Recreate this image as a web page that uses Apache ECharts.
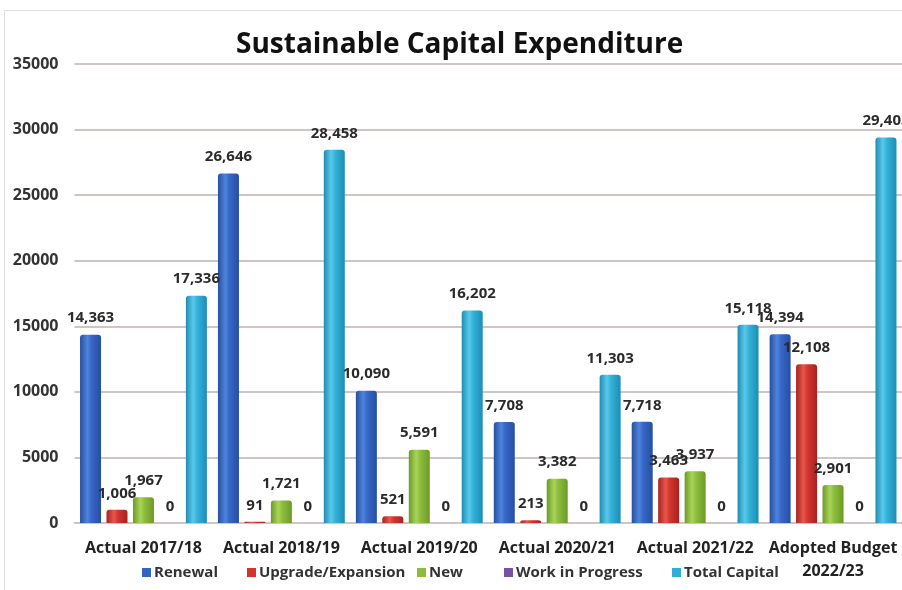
<!DOCTYPE html>
<html>
<head>
<meta charset="utf-8">
<script src="https://cdn.jsdelivr.net/npm/echarts@6/dist/echarts.min.js"></script>
<style>
  html, body { margin: 0; padding: 0; background: #ffffff; }
  #chart { width: 902px; height: 590px; }
</style>
</head>
<body>
<div id="chart"></div>
<script>
// Capital expenditure by year and spending type
const categories = ['Actual 2017/18', 'Actual 2018/19', 'Actual 2019/20', 'Actual 2020/21', 'Actual 2021/22', 'Adopted Budget\n2022/23'];
const renewal = [14363, 26646, 10090, 7708, 7718, 14394];
const upgradeExpansion = [1006, 91, 521, 213, 3463, 12108];
const newWorks = [1967, 1721, 5591, 3382, 3937, 2901];
const workInProgress = [0, 0, 0, 0, 0, 0];
const totalCapital = [17336, 28458, 16202, 11303, 15118, 29403];
const yTicks = [0, 5000, 10000, 15000, 20000, 25000, 30000, 35000];

const FONT = '"Open Sans", "Noto Sans", sans-serif';

// Horizontal gradient that gives each bar a rounded, cylinder-like shading
function tube(edge, mid, light) {
  return new echarts.graphic.LinearGradient(0, 0, 1, 0, [
    { offset: 0, color: edge },
    { offset: 0.35, color: light },
    { offset: 0.55, color: mid },
    { offset: 1, color: edge }
  ]);
}

const palette = {
  renewal: { solid: '#3464c2', fill: tube('#274fa0', '#3666c8', '#4e84dc') },
  upgrade: { solid: '#d2342e', fill: tube('#a8221f', '#d3352f', '#e8564b') },
  fresh:   { solid: '#8dbb3c', fill: tube('#6c9a26', '#8dbd3e', '#a9d45a') },
  wip:     { solid: '#7552a3', fill: tube('#5a3c86', '#7552a3', '#8c6ab8') },
  total:   { solid: '#30aed6', fill: tube('#1d8db4', '#33b1d8', '#5ac9ea') }
};

const fmt = v => v.value.toLocaleString('en-US');

function barSeries(name, data, colors) {
  return {
    name: name,
    type: 'bar',
    data: data,
    barWidth: 21,
    barGap: '26%',
    itemStyle: { color: colors.fill, borderRadius: [3, 3, 0, 0] },
    label: {
      show: true,
      position: 'top',
      distance: 9,
      formatter: fmt,
      fontFamily: FONT,
      fontSize: 15,
      fontWeight: 700,
      color: '#2b2b2b'
    }
  };
}

const series = [
  barSeries('Renewal', renewal, palette.renewal),
  barSeries('Upgrade/Expansion', upgradeExpansion, palette.upgrade),
  barSeries('New', newWorks, palette.fresh),
  barSeries('Work in Progress', workInProgress, palette.wip),
  barSeries('Total Capital', totalCapital, palette.total)
];

// One legend per entry so each swatch sits where it belongs on the bottom row
const legendSpots = [
  { name: 'Renewal', left: 142, color: palette.renewal.solid },
  { name: 'Upgrade/Expansion', left: 247, color: palette.upgrade.solid },
  { name: 'New', left: 417, color: palette.fresh.solid },
  { name: 'Work in Progress', left: 504, color: palette.wip.solid },
  { name: 'Total Capital', left: 672, color: palette.total.solid }
];

const chart = echarts.init(document.getElementById('chart'), null, { renderer: 'canvas' });

chart.setOption({
  animation: false,
  backgroundColor: '#ffffff',
  color: legendSpots.map(s => s.color),
  title: {
    text: 'Sustainable Capital Expenditure',
    left: 236,
    top: 31,
    padding: 0,
    textStyle: { fontFamily: FONT, fontSize: 28, fontWeight: 700, color: '#111111' }
  },
  legend: legendSpots.map(s => ({
    data: [{ name: s.name, itemStyle: { color: s.color } }],
    left: s.left,
    top: 565,
    padding: 0,
    itemWidth: 9,
    itemHeight: 9,
    icon: 'rect',
    selectedMode: false,
    textStyle: { fontFamily: FONT, fontSize: 15, fontWeight: 700, color: '#333333', padding: [0, 0, 0, -2] }
  })),
  grid: { left: 74.5, right: 0, top: 64, bottom: 67, containLabel: false },
  xAxis: {
    type: 'category',
    data: categories,
    axisLine: { show: true, lineStyle: { color: '#cfc6c4', width: 2 } },
    axisTick: { show: false },
    axisLabel: {
      interval: 0,
      margin: 14,
      fontFamily: FONT,
      fontSize: 16,
      fontWeight: 700,
      color: '#222222',
      lineHeight: 23
    }
  },
  yAxis: {
    type: 'value',
    min: yTicks[0],
    max: yTicks[yTicks.length - 1],
    interval: yTicks[1] - yTicks[0],
    axisLine: { show: false },
    axisTick: { show: false },
    splitLine: { lineStyle: { color: '#cfc6c4', width: 2 } },
    axisLabel: {
      margin: 16,
      formatter: v => String(v),
      fontFamily: FONT,
      fontSize: 16,
      fontWeight: 700,
      color: '#333333'
    }
  },
  graphic: [{
    type: 'rect',
    silent: true,
    shape: { x: 4.5, y: 10.5, width: 910, height: 590 },
    style: { fill: 'none', stroke: '#dedede', lineWidth: 1 }
  }],
  series: series
});
</script>
</body>
</html>
